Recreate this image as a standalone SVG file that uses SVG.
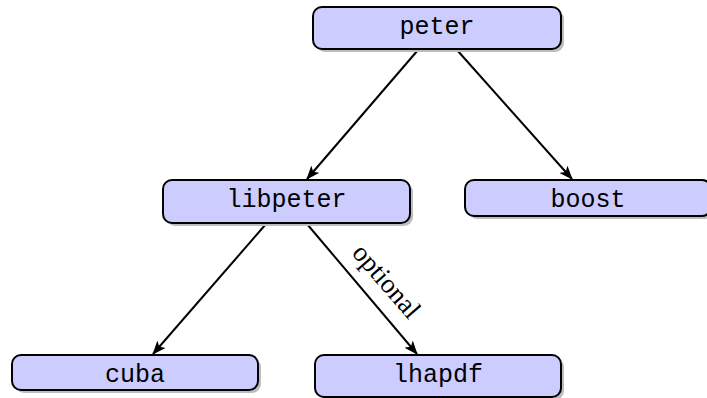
<svg xmlns="http://www.w3.org/2000/svg" width="707" height="398" viewBox="0 0 707 398">
  <style>
    .shadow { fill: #bdbdbd; stroke: none; }
    .box { fill: #ccccff; stroke: #000; stroke-width: 2; }
    .lbl { font-family: "Liberation Mono", "DejaVu Sans Mono", monospace; font-size: 25px; fill: #000; text-anchor: middle; }
    .edge { stroke: #000; stroke-width: 2; fill: none; marker-end: url(#arrow); }
    .elabel { font-family: "Liberation Serif", "DejaVu Serif", serif; font-size: 27px; fill: #000; text-anchor: middle; }
  </style>
  <defs>
    <marker id="arrow" viewBox="0 0 14 11" refX="13" refY="5.5" markerWidth="14" markerHeight="11" markerUnits="userSpaceOnUse" orient="auto">
      <path d="M0,0 L14,5.5 L0,11 L3.5,5.5 Z" fill="#000"/>
    </marker>
  </defs>
  <rect width="707" height="398" fill="#fff"/>

  <g id="connectors">
    <line class="edge" x1="418" y1="50" x2="307" y2="179"/>
    <line class="edge" x1="457" y1="50" x2="572" y2="179"/>
    <line class="edge" x1="266" y1="224" x2="153" y2="354"/>
    <line class="edge" x1="307" y1="224" x2="417" y2="354"/>
    <text class="elabel" transform="translate(380,287) rotate(49.1)">optional</text>
  </g>

  <g id="peter">
    <rect class="shadow" x="316" y="10" width="248" height="42" rx="9"/>
    <rect class="box" x="313" y="7" width="248" height="42" rx="9"/>
    <text class="lbl" x="437" y="34">peter</text>
  </g>

  <g id="libpeter">
    <rect class="shadow" x="166" y="183" width="247" height="43" rx="9"/>
    <rect class="box" x="163" y="180" width="247" height="43" rx="9"/>
    <text class="lbl" x="286.5" y="207">libpeter</text>
  </g>

  <g id="boost">
    <rect class="shadow" x="468" y="183" width="246" height="36" rx="9"/>
    <rect class="box" x="465" y="180" width="246" height="36" rx="9"/>
    <text class="lbl" x="588" y="207">boost</text>
  </g>

  <g id="cuba">
    <rect class="shadow" x="15" y="358" width="246" height="35" rx="9"/>
    <rect class="box" x="12" y="355" width="246" height="35" rx="9"/>
    <text class="lbl" x="135" y="382">cuba</text>
  </g>

  <g id="lhapdf">
    <rect class="shadow" x="318" y="358" width="246" height="42" rx="9"/>
    <rect class="box" x="315" y="355" width="246" height="42" rx="9"/>
    <text class="lbl" x="438" y="382">lhapdf</text>
  </g>
</svg>
